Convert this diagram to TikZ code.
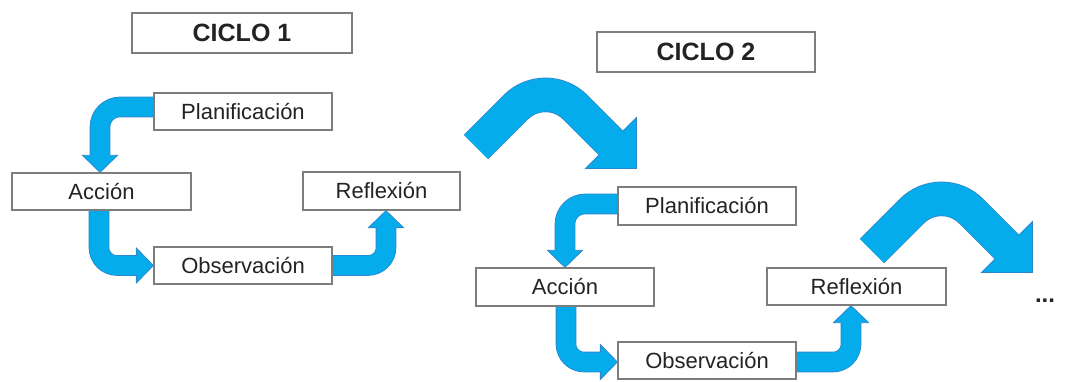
\documentclass[tikz,border=0pt]{standalone}
\usepackage{fontspec}
\setmainfont{Liberation Sans}
\usetikzlibrary{calc}
\pgfdeclarelayer{bg}
\pgfsetlayers{bg,main}
\definecolor{blu}{RGB}{5,172,236}
\definecolor{bluedge}{RGB}{45,135,205}
\definecolor{boxgray}{RGB}{125,125,125}
\definecolor{txt}{RGB}{35,35,35}
% small arrow heads (tip given)
\newcommand\hdown[1]{\filldraw[blu,draw=bluedge,line width=0.8pt] (#1) -- ++(-17.5,-17) -- ++(35,0) -- cycle;}
\newcommand\hright[1]{\filldraw[blu,draw=bluedge,line width=0.8pt] (#1) -- ++(-17,-17.5) -- ++(0,35) -- cycle;}
\newcommand\hup[1]{\filldraw[blu,draw=bluedge,line width=0.8pt] (#1) -- ++(-17.5,17) -- ++(35,0) -- cycle;}
\begin{document}
\begin{tikzpicture}[x=1pt,y=-1pt,
  stepbox/.style={draw=boxgray,line width=1.3pt,fill=white,minimum height=37pt,
    inner sep=0pt,text height=15.5pt,text depth=0pt,
    font=\fontsize{22}{24}\selectfont,text=txt},
  titlebox/.style={stepbox,minimum height=40pt,text height=18pt,
    font=\fontsize{25}{28}\selectfont\bfseries},
  bandout/.style={draw=bluedge,line width=20.6pt},
  bandin/.style={draw=blu,line width=19pt},
  bigout/.style={draw=bluedge,line width=34.6pt,rounded corners=42pt},
  bigin/.style={draw=blu,line width=33pt,rounded corners=42pt}]
\useasboundingbox (0,0) rectangle (1069,382);

% ---------- nodes ----------
\node[titlebox,minimum width=220pt] (c1) at (242,33) {CICLO 1};
\node[titlebox,minimum width=218pt] (c2) at (706,52) {CICLO 2};

\node[stepbox,minimum width=178pt] (p1) at (243,111.5) {Planificación};
\node[stepbox,minimum width=179pt] (a1) at (101.5,191.5) {Acción};
\node[stepbox,minimum width=178pt] (o1) at (243,265.5) {Observación};
\node[stepbox,minimum width=157pt,minimum height=38pt] (r1) at (381.5,191) {Reflexión};

\node[stepbox,minimum width=178pt,minimum height=38pt] (p2) at (707,206) {Planificación};
\node[stepbox,minimum width=178pt,minimum height=38pt] (a2) at (565,287) {Acción};
\node[stepbox,minimum width=178pt] (o2) at (707,360.5) {Observación};
\node[stepbox,minimum width=179pt] (r2) at (856.5,286.5) {Reflexión};

\node[font=\fontsize{24}{26}\selectfont\bfseries,text=txt,inner sep=0pt] (dots) at (1045,301) {...};

\begin{pgfonlayer}{bg}
\fill[white] (0,0) rectangle (1069,382);
% ---------- big curved arrows ----------
\newcommand\bigarrow{%
  \draw[bigout] (476,147) -- (545.5,77.5) -- (611,143);
  \filldraw[blu,draw=bluedge,line width=0.8pt] (636.5,168.5) -- (636.5,117.5) -- (585.5,168.5) -- cycle;
  \draw[bigin] (476,147) -- (545.5,77.5) -- (612,144);
}
\bigarrow
\begin{scope}[shift={(396,104)}]
\bigarrow
\end{scope}

% ---------- small arrows, cycle 1 ----------
\draw[bandout,rounded corners=20pt] ($(p1.west)+(0,-4.5)$) -| ($(a1.north)+(-1.5,-17)$);
\hdown{$(a1.north)+(-1.5,0)$}
\draw[bandin,rounded corners=20pt] ($(p1.west)+(0,-4.5)$) -| ($(a1.north)+(-1.5,-16)$);

\draw[bandout,rounded corners=18pt] ($(a1.south)+(-2.5,0)$) |- ($(o1.west)+(-17,0)$);
\hright{o1.west}
\draw[bandin,rounded corners=18pt] ($(a1.south)+(-2.5,0)$) |- ($(o1.west)+(-16,0)$);

\draw[bandout,rounded corners=18pt] (o1.east) -| ($(r1.south)+(4.5,17)$);
\hup{$(r1.south)+(4.5,0)$}
\draw[bandin,rounded corners=18pt] (o1.east) -| ($(r1.south)+(4.5,16)$);

% ---------- small arrows, cycle 2 ----------
\draw[bandout,rounded corners=20pt] ($(p2.west)+(0,-2)$) -| ($(a2.north)+(0,-17)$);
\hdown{a2.north}
\draw[bandin,rounded corners=20pt] ($(p2.west)+(0,-2)$) -| ($(a2.north)+(0,-16)$);

\draw[bandout,rounded corners=18pt] ($(a2.south)+(1,0)$) |- ($(o2.west)+(-17,1.5)$);
\hright{$(o2.west)+(0,1.5)$}
\draw[bandin,rounded corners=18pt] ($(a2.south)+(1,0)$) |- ($(o2.west)+(-16,1.5)$);

\draw[bandout,rounded corners=18pt] ($(o2.east)+(0,1.5)$) -| ($(r2.south)+(-5.5,17)$);
\hup{$(r2.south)+(-5.5,0)$}
\draw[bandin,rounded corners=18pt] ($(o2.east)+(0,1.5)$) -| ($(r2.south)+(-5.5,16)$);
\end{pgfonlayer}
\end{tikzpicture}
\end{document}
